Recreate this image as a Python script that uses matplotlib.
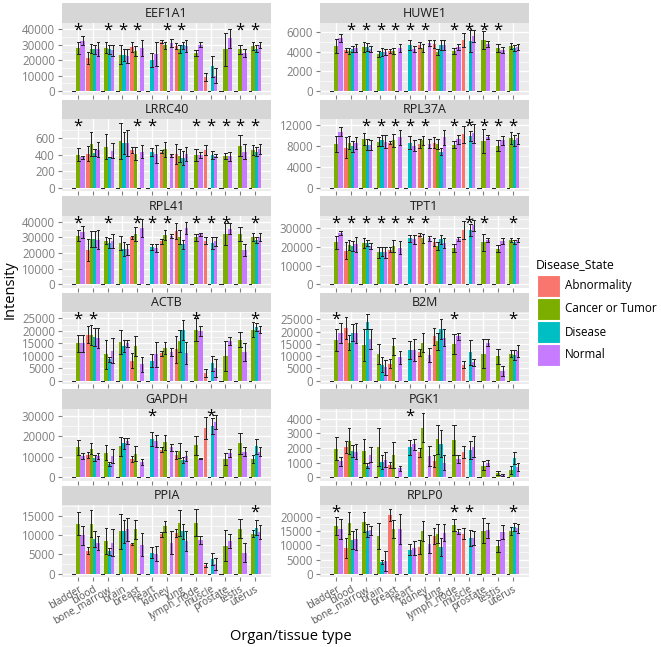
import matplotlib
matplotlib.use("Agg")
import matplotlib.pyplot as plt
from matplotlib.patches import Rectangle

plt.rcParams['font.family'] = ['Open Sans', 'DejaVu Sans']

TISSUES = ["bladder", "blood", "bone_marrow", "brain", "breast", "heart", "kidney",
           "lung", "lymph_node", "muscle", "prostate", "testis", "uterus"]
STATES = ["Abnormality", "Cancer or Tumor", "Disease", "Normal"]
COLORS = {"A": "#F8766D", "C": "#7CAE00", "D": "#00BFC4", "N": "#C77CFF"}
# which disease states show up per tissue (Z = state with no value, drawn at 0)
SLOTS = ["ZCN", "ACDN", "ZCDN", "ZCDN", "ACZN", "ZDN", "ACZN",
         "ACDN", "ZCN", "AZDN", "ZCN", "ZCN", "ZCDN"]

EEF1A1_MEAN = [(0, 28000, 32500), (21500, 27500, 27000, 27000), (0, 28000, 27000, 26500),
               (0, 23500, 23500, 23000), (28500, 26000, 0, 28000), (0, 20000, 24000),
               (32000, 29500, 0, 31000), (29000, 27000, 29500, 29000), (0, 24500, 30000),
               (9000, 0, 16000, 10000), (0, 27000, 34000), (0, 27000, 24500), (0, 29000, 27500, 30000)]
EEF1A1_ERR = [(0, 4000, 3000), (4000, 3000, 3000, 4500), (0, 3500, 3000, 3500),
              (0, 6000, 4000, 4500), (3000, 3000, 0, 5000), (0, 4500, 8000),
              (1000, 2500, 0, 2500), (2000, 2500, 2500, 4000), (0, 2000, 1500),
              (2500, 0, 7000, 5000), (0, 10500, 6000), (0, 3000, 2500), (0, 2500, 2500, 2000)]
EEF1A1_STARS = [0, 2, 3, 4, 6, 7, 11, 12]

HUWE1_MEAN = [(0, 4600, 5400), (4200, 4100, 4300, 4400), (0, 4500, 4500, 4300),
              (0, 3800, 4000, 4000), (4100, 4100, 0, 4400), (0, 4700, 4300),
              (4700, 4400, 0, 4900), (4800, 4000, 4700, 4700), (0, 4100, 4500),
              (5200, 0, 5100, 5600), (0, 5200, 4800), (0, 4400, 4200), (0, 4600, 4400, 4500)]
HUWE1_ERR = [(0, 700, 400), (200, 300, 300, 400), (0, 500, 400, 300),
             (0, 300, 400, 300), (200, 300, 0, 400), (0, 500, 300),
             (300, 400, 0, 300), (400, 300, 500, 500), (0, 300, 300),
             (700, 0, 1100, 600), (0, 900, 300), (0, 400, 300), (0, 300, 300, 300)]
HUWE1_STARS = [1, 2, 3, 4, 5, 6, 8, 9, 10, 11]

LRRC40_MEAN = [(0, 400, 370), (415, 530, 425, 460), (0, 500, 375, 450),
               (0, 570, 545, 545), (460, 415, 0, 440), (0, 430, 405),
               (440, 465, 0, 395), (410, 390, 360, 410), (0, 395, 400),
               (460, 0, 400, 390), (0, 385, 380), (0, 510, 440), (0, 460, 440, 470)]
LRRC40_ERR = [(0, 80, 20), (90, 150, 40, 90), (0, 150, 0, 90),
              (0, 220, 130, 160), (40, 80, 0, 80), (0, 50, 110),
              (20, 90, 0, 20), (120, 80, 90, 90), (0, 70, 40),
              (60, 0, 50, 20), (0, 40, 50), (0, 130, 90), (0, 60, 50, 60)]
LRRC40_STARS = [0, 4, 5, 8, 9, 10, 11, 12]

RPL37A_MEAN = [(0, 8300, 10700), (7600, 8600, 7900, 8500), (0, 9300, 8200, 8100),
               (0, 8800, 9000, 8800), (8600, 9000, 0, 9600), (0, 8600, 8000),
               (8400, 9000, 0, 8400), (8600, 8300, 6900, 9600), (0, 8200, 9200),
               (10200, 0, 9900, 10400), (0, 8900, 9600), (0, 8000, 9000), (0, 9500, 9000, 9400)]
RPL37A_ERR = [(0, 1500, 800), (2000, 1200, 1000, 1200), (0, 1200, 1000, 1000),
              (0, 800, 1000, 1200), (300, 1200, 0, 1400), (0, 1200, 1000),
              (800, 800, 0, 800), (1100, 1000, 700, 1400), (0, 700, 800),
              (1600, 0, 1000, 1800), (0, 2200, 400), (0, 1000, 800), (0, 1200, 1000, 1000)]
RPL37A_STARS = [2, 3, 4, 5, 6, 8, 9, 10, 11, 12]

RPL41_MEAN = [(0, 31000, 33500), (22000, 29000, 29000, 28500), (0, 28000, 26500, 28000),
              (0, 26500, 22500, 22500), (30000, 32500, 0, 36000), (0, 24000, 23500),
              (27500, 31500, 0, 31000), (34000, 30500, 25500, 36000), (0, 30000, 32000),
              (28000, 0, 26500, 27500), (0, 32000, 35500), (0, 32000, 22000), (0, 30500, 28500, 30500)]
RPL41_ERR = [(0, 3500, 4000), (7000, 5000, 5000, 6000), (0, 2500, 3000, 4500),
             (0, 4500, 4500, 3500), (1000, 4500, 0, 6000), (0, 2000, 2500),
             (1500, 3000, 0, 1500), (5000, 4500, 3000, 4000), (0, 2000, 1000),
             (2000, 0, 4000, 3000), (0, 7000, 3500), (0, 4500, 4000), (0, 2500, 2000, 2500)]
RPL41_STARS = [0, 2, 4, 5, 6, 8, 9, 10, 12]

TPT1_MEAN = [(0, 22500, 27500), (18000, 21000, 20500, 21500), (0, 22000, 22000, 20500),
             (0, 17000, 17500, 17000), (18500, 20500, 0, 19500), (0, 24500, 24000),
             (26500, 24500, 0, 24500), (22500, 20500, 24000, 22000), (0, 19500, 24000),
             (29000, 0, 29000, 31500), (0, 22500, 23500), (0, 19000, 23000), (0, 23500, 22500, 23500)]
TPT1_ERR = [(0, 3500, 1000), (4500, 2500, 2500, 4000), (0, 2500, 1500, 1500),
            (0, 3000, 2500, 3000), (1500, 3000, 0, 3500), (0, 2000, 2500),
            (800, 2500, 0, 1500), (2000, 2000, 2500, 2500), (0, 2000, 1000),
            (5000, 0, 3000, 3000), (0, 4500, 1000), (0, 2000, 1500), (0, 1000, 1000, 1000)]
TPT1_STARS = [0, 1, 2, 3, 4, 5, 6, 9, 10, 12]

ACTB_MEAN = [(0, 15000, 15000), (18500, 18500, 17500, 17000), (0, 10500, 8500, 12000),
             (0, 15500, 14000, 15000), (8000, 14000, 0, 6500), (0, 8000, 10500),
             (11000, 13000, 0, 11500), (12500, 16000, 20500, 11000), (0, 20500, 20000),
             (3000, 0, 7000, 5000), (0, 10000, 16000), (0, 16500, 11500), (0, 20500, 21500, 20500)]
ACTB_ERR = [(0, 3500, 3500), (3500, 4000, 3500, 4000), (0, 6000, 1000, 5000),
            (0, 5000, 2500, 1500), (3000, 4000, 0, 3000), (0, 2500, 5000),
            (1000, 2500, 0, 1500), (5500, 4500, 4000, 4500), (0, 4500, 2000),
            (1500, 0, 3000, 3500), (0, 6000, 1500), (0, 3000, 3500), (0, 3000, 1500, 1500)]
ACTB_STARS = [0, 1, 8, 12]

B2M_MEAN = [(0, 16500, 19500), (21500, 15500, 19500, 19500), (0, 14500, 24000, 17000),
            (0, 11000, 6500, 5500), (7000, 14000, 0, 9500), (0, 12500, 12500),
            (11500, 15500, 0, 10500), (18000, 16000, 21000, 17500), (0, 15000, 18000),
            (6500, 0, 11500, 7500), (0, 11000, 15500), (0, 10000, 4000), (0, 11000, 10500, 12000)]
B2M_ERR = [(0, 4500, 4000), (4500, 3000, 3500, 4000), (0, 6500, 3000, 4000),
           (0, 4000, 3000, 3000), (2000, 3500, 0, 2500), (0, 3500, 4500),
           (1500, 4000, 0, 3000), (3500, 3500, 4000, 3500), (0, 4000, 1500),
           (1500, 0, 5000, 1500), (0, 6000, 1500), (0, 3000, 2000), (0, 1500, 2000, 2500)]
B2M_STARS = [0, 8, 12]

GAPDH_MEAN = [(0, 14500, 10500), (11000, 14000, 9500, 10500), (0, 12000, 6500, 10500),
              (0, 15000, 16500, 17500), (9000, 11500, 0, 7500), (0, 18500, 17500),
              (13500, 17000, 0, 14500), (11000, 13000, 8500, 10500), (0, 15500, 9000),
              (24000, 0, 25000, 27000), (0, 9000, 12000), (0, 16500, 12500), (0, 9000, 15000, 12500)]
GAPDH_ERR = [(0, 3500, 1500), (1500, 2500, 1500, 1500), (0, 3500, 1000, 3500),
             (0, 4500, 2500, 1500), (1500, 3500, 0, 1500), (0, 3500, 3000),
             (1000, 3500, 0, 1500), (2000, 3500, 1500, 2500), (0, 4500, 300),
             (5500, 0, 4000, 3500), (0, 3000, 2000), (0, 5000, 2000), (0, 2000, 3500, 2000)]
GAPDH_STARS = [5, 9]

PGK1_MEAN = [(0, 1950, 1100), (2050, 2500, 1800, 1750), (0, 1800, 800, 1550),
             (0, 2050, 1050, 1200), (850, 1500, 0, 600), (0, 2050, 2250),
             (1700, 3400, 0, 1450), (1100, 2600, 2300, 1000), (0, 2550, 1250),
             (1750, 0, 1850, 2100), (0, 800, 950), (0, 300, 150), (0, 500, 1300, 700)]
PGK1_ERR = [(0, 800, 300), (400, 900, 400, 500), (0, 800, 200, 500),
            (0, 1300, 500, 500), (200, 900, 0, 150), (0, 500, 400),
            (300, 1000, 0, 700), (400, 1000, 900, 500), (0, 1000, 300),
            (400, 0, 600, 700), (0, 300, 200), (0, 150, 100), (0, 300, 400, 300)]
PGK1_STARS = [5]

PPIA_MEAN = [(0, 13000, 10000), (6000, 13000, 9000, 8000), (0, 8500, 5800, 8000),
             (0, 11000, 11000, 11500), (7800, 11500, 0, 7500), (0, 5500, 5200),
             (10200, 12300, 0, 8000), (10500, 13200, 11000, 8500), (0, 13200, 8700),
             (2200, 0, 3800, 2500), (0, 7300, 8500), (0, 11700, 5500), (0, 10400, 12000, 10900)]
PPIA_ERR = [(0, 3000, 2500), (1000, 3500, 2000, 1800), (0, 3500, 1000, 3500),
            (0, 4500, 3000, 3000), (300, 2500, 0, 3000), (0, 1500, 2000),
            (700, 1400, 0, 3000), (1000, 3300, 2000, 2500), (0, 3500, 1000),
            (500, 0, 1500, 1500), (0, 4000, 1800), (0, 2500, 2500), (0, 900, 1900, 1800)]
PPIA_STARS = [12]

RPLP0_MEAN = [(0, 16800, 15700), (9200, 18000, 11900, 12100), (0, 18300, 15100, 15300),
              (0, 13300, 4200, 4500), (20700, 15700, 0, 15700), (0, 8500, 9200),
              (9400, 15000, 0, 10400), (13300, 14100, 9400, 14500), (0, 17200, 14800),
              (14100, 0, 12500, 12500), (0, 15100, 15300), (0, 9800, 14800), (0, 15000, 16500, 16000)]
RPLP0_ERR = [(0, 3200, 3500), (3500, 3900, 3100, 3600), (0, 3600, 2300, 1500),
             (0, 4700, 800, 3500), (2000, 3100, 0, 5300), (0, 2000, 2500),
             (2400, 3600, 0, 3200), (2700, 3300, 3300, 3100), (0, 2000, 900),
             (1900, 0, 2800, 2500), (0, 4400, 2700), (0, 2000, 2500), (0, 1500, 1500, 1500)]
RPLP0_STARS = [0, 8, 9, 12]

PANELS = [
    ("EEF1A1", EEF1A1_MEAN, EEF1A1_ERR, EEF1A1_STARS, 42200, 10000),
    ("HUWE1", HUWE1_MEAN, HUWE1_ERR, HUWE1_STARS, 6620, 2000),
    ("LRRC40", LRRC40_MEAN, LRRC40_ERR, LRRC40_STARS, 795, 200),
    ("RPL37A", RPL37A_MEAN, RPL37A_ERR, RPL37A_STARS, 12470, 4000),
    ("RPL41", RPL41_MEAN, RPL41_ERR, RPL41_STARS, 42000, 10000),
    ("TPT1", TPT1_MEAN, TPT1_ERR, TPT1_STARS, 35000, 10000),
    ("ACTB", ACTB_MEAN, ACTB_ERR, ACTB_STARS, 26200, 5000),
    ("B2M", B2M_MEAN, B2M_ERR, B2M_STARS, 26600, 5000),
    ("GAPDH", GAPDH_MEAN, GAPDH_ERR, GAPDH_STARS, 31900, 10000),
    ("PGK1", PGK1_MEAN, PGK1_ERR, PGK1_STARS, 4480, 1000),
    ("PPIA", PPIA_MEAN, PPIA_ERR, PPIA_STARS, 17000, 5000),
    ("RPLP0", RPLP0_MEAN, RPLP0_ERR, RPLP0_STARS, 23100, 5000),
]

W, H = 661, 647
TXT = "#7F7F7F"


def px_axes(fig, x0, y0, x1, y1):
    # pixel box (top-left origin) -> figure axes
    return fig.add_axes([x0 / W, 1 - y1 / H, (x1 - x0) / W, (y1 - y0) / H])


def draw_panel(ax, mean, err, stars, ytop, step, bottom_row):
    ax.set_facecolor("#EBEBEB")
    for i, slots in enumerate(SLOTS):
        n = len(slots)
        w = 0.9 / n
        for j, s in enumerate(slots):
            x = i - 0.45 + (j + 0.5) * w
            m, e = mean[i][j], err[i][j]
            if s != "Z":
                ax.bar(x, m, width=w, color=COLORS[s], zorder=2, linewidth=0)
            cw = w * 0.75
            ax.plot([x, x], [m - e, m + e], color="#222222", lw=0.7, zorder=3)
            for yy in (m - e, m + e):
                ax.plot([x - cw / 2, x + cw / 2], [yy, yy], color="#222222", lw=0.7, zorder=3)
    for i in stars:
        ax.text(i, ytop * 0.93, "*", ha="center", va="center", fontsize=12, color="black", zorder=4)

    ax.set_xlim(-1.1, 13.1)
    ax.set_ylim(-0.05 * ytop, 1.05 * ytop)
    major = list(range(0, int(ytop) + 1, step))
    minor = [v + step / 2 for v in major if v + step / 2 < 1.05 * ytop]
    ax.set_yticks(major)
    ax.set_yticks(minor, minor=True)
    ax.set_yticklabels([str(v) for v in major])
    ax.set_xticks(range(len(TISSUES)))
    ax.grid(True, which="major", color="white", lw=1.0, zorder=0)
    ax.grid(True, which="minor", axis="y", color="white", lw=0.45, zorder=0)
    ax.set_axisbelow(True)
    for sp in ax.spines.values():
        sp.set_visible(False)
    ax.tick_params(axis="both", which="major", length=3, color=TXT, labelcolor=TXT, labelsize=8.3, pad=2)
    ax.tick_params(axis="y", which="minor", length=0)
    if bottom_row:
        ax.set_xticklabels(TISSUES, rotation=30, ha="right", rotation_mode="anchor",
                           fontsize=7.2, color="#555555")
    else:
        ax.set_xticklabels([])


fig = plt.figure(figsize=(W / 100, H / 100), dpi=100)

col_x = [(62, 271), (320, 529)]
for k, (name, mean, err, stars, ytop, step) in enumerate(PANELS):
    r, c = divmod(k, 2)
    st = 3 + 96.5 * r
    x0, x1 = col_x[c]
    ax = px_axes(fig, x0, st + 19.5, x1, st + 91.5)
    draw_panel(ax, mean, err, stars, ytop, step, r == 5)
    sax = px_axes(fig, x0, st, x1, st + 19.5)
    sax.set_facecolor("#D6D6D6")
    sax.set_xticks([]); sax.set_yticks([])
    for sp in sax.spines.values():
        sp.set_visible(False)
    sax.text(0.5, 0.48, name, ha="center", va="center", fontsize=9, color="#1A1A1A", transform=sax.transAxes)

fig.text(10 / W, 1 - 290 / H, "Intensity", rotation=90, ha="center", va="center", fontsize=10.5)
fig.text(291 / W, 1 - 636 / H, "Organ/tissue type", ha="center", va="center", fontsize=10.5)

# legend
lax = px_axes(fig, 530, 250, 661, 380)
lax.set_xlim(530, 661)
lax.set_ylim(380, 250)
lax.axis("off")
lax.text(536, 265, "Disease_State", ha="left", va="center", fontsize=8.8)
for i, (s, lab) in enumerate(zip("ACDN", STATES)):
    y0 = 275 + 23 * i
    lax.add_patch(Rectangle((537, y0), 23, 22, facecolor=COLORS[s], edgecolor="white", lw=0.8))
    lax.text(565, y0 + 11, lab, ha="left", va="center", fontsize=8.4)

fig.savefig("out.png", dpi=100)
